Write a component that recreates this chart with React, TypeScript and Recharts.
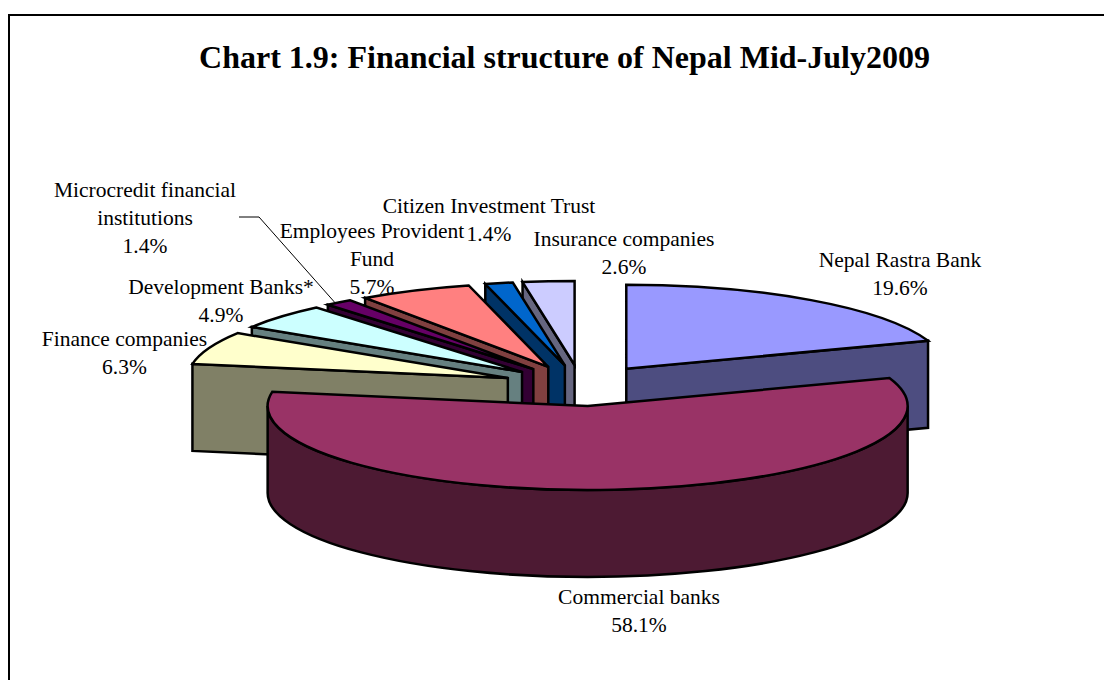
import React from 'react';
import { PieChart, Pie } from 'recharts';

// listed clockwise from the top, the way the slices sit in the source chart
const categories = [
  'Nepal Rastra Bank',
  'Insurance companies',
  'Citizen Investment Trust',
  'Employees Provident Fund',
  'Microcredit financial institutions',
  'Development Banks*',
  'Finance companies',
  'Commercial banks',
];
const shares = [19.6, 2.6, 1.4, 5.7, 1.4, 4.9, 6.3, 58.1];
const topColors = ['#9999FF', '#CCCCFF', '#0066CC', '#FF8080', '#660066', '#CCFFFF', '#FFFFCC', '#993366'];
const sideColors = ['#4D4D80', '#666680', '#003366', '#804040', '#330033', '#668080', '#808066', '#4D1A33'];

// hand placed label blocks: centre x, first baseline, wrapped lines
const labelSpots = [
  { x: 900, y: 267, lines: ['Nepal Rastra Bank'] },
  { x: 624, y: 246, lines: ['Insurance companies'] },
  { x: 489, y: 213, lines: ['Citizen Investment Trust'] },
  { x: 372, y: 238, lines: ['Employees Provident', 'Fund'] },
  { x: 145, y: 197, lines: ['Microcredit financial', 'institutions'] },
  { x: 221, y: 294, lines: ['Development Banks*'] },
  { x: 124.5, y: 346, lines: ['Finance companies'] },
  { x: 639, y: 604, lines: ['Commercial banks'] },
];

const data = categories.map((name, i) => ({ name, value: shares[i], top: topColors[i], side: sideColors[i] }));

const SQUASH = 84 / 320;
const DEPTH = 87;
const EXPLODE = 0.245;
const RX = 320;
const RY = RX * SQUASH;
const FONT = '"Liberation Serif", "Times New Roman", serif';

const rad = (d: number) => (d * Math.PI) / 180;

// recharts angles run counter clockwise from 3 o'clock, the tilted pie is easier clockwise from 12
const pt = (ax: number, ay: number, clock: number, r = RX) => ({
  x: ax + r * Math.sin(rad(clock)),
  y: ay - (r * SQUASH) * Math.cos(rad(clock)),
});

const sliceApex = (cx: number, cy: number, a: number, b: number) => {
  const clockA = 90 - Math.max(a, b);
  const clockB = 90 - Math.min(a, b);
  const start = ((clockA % 360) + 360) % 360;
  const end = start + (clockB - clockA);
  const mid = (start + end) / 2;
  const apex = pt(cx, cy, mid, RX * EXPLODE);
  return { start, end, mid, apex };
};

function Slice3D(props: any) {
  const { cx, cy, startAngle, endAngle, payload } = props;
  const { start, end, apex } = sliceApex(cx, cy, startAngle, endAngle);
  const p1 = pt(apex.x, apex.y, start);
  const p2 = pt(apex.x, apex.y, end);
  const large = end - start > 180 ? 1 : 0;
  const stroke = { stroke: '#000', strokeWidth: 2.5, strokeLinejoin: 'miter' as const };

  const wall = (p: { x: number; y: number }) =>
    `M${apex.x},${apex.y}L${p.x},${p.y}L${p.x},${p.y + DEPTH}L${apex.x},${apex.y + DEPTH}Z`;

  // outer rim is only seen on the front half of the ellipse
  const rimFrom = Math.max(start, 90);
  const rimTo = Math.min(end, 270);
  let rim = '';
  if (rimTo > rimFrom) {
    const a = pt(apex.x, apex.y, rimFrom);
    const b = pt(apex.x, apex.y, rimTo);
    rim =
      `M${a.x},${a.y}A${RX},${RY} 0 0 1 ${b.x},${b.y}` +
      `L${b.x},${b.y + DEPTH}A${RX},${RY} 0 0 0 ${a.x},${a.y + DEPTH}Z`;
  }

  const top =
    `M${apex.x},${apex.y}L${p1.x},${p1.y}` +
    `A${RX},${RY} 0 ${large} 1 ${p2.x},${p2.y}Z`;

  return (
    <g>
      {Math.sin(rad(start)) < 0 && <path d={wall(p1)} fill={payload.side} {...stroke} />}
      {Math.sin(rad(end)) > 0 && <path d={wall(p2)} fill={payload.side} {...stroke} />}
      {rim && <path d={rim} fill={payload.side} {...stroke} />}
      <path d={top} fill={payload.top} {...stroke} />
    </g>
  );
}

function SliceLabel(props: any) {
  const { index, value, cx, cy } = props;
  const spot = labelSpots[index];
  const rows = [...spot.lines, `${value.toFixed(1)}%`];
  let leader = null;
  if (categories[index].startsWith('Microcredit')) {
    // the one label that needs a leader back to its slice
    const before = shares.slice(1, index).reduce((s, v) => s + v, 0);
    const clock = 360 - (before + shares[index] / 2) * 3.6;
    const apex = pt(cx, cy, clock, RX * EXPLODE);
    const tip = pt(apex.x, apex.y, clock);
    leader = (
      <polyline
        points={`239,217 259,217 ${tip.x - 4},${tip.y}`}
        fill="none"
        stroke="#000"
        strokeWidth={1}
      />
    );
  }
  return (
    <g>
      {leader}
      <text x={spot.x} y={spot.y} textAnchor="middle" fontFamily={FONT} fontSize={21.5} fill="#000">
        {rows.map((row, i) => (
          <tspan key={row} x={spot.x} dy={i === 0 ? 0 : 28}>
            {row}
          </tspan>
        ))}
      </text>
    </g>
  );
}

export default function App() {
  // first slice ends at 12 o'clock and the rest carry on counter clockwise, so the big
  // commercial banks slice is painted last and lands on top
  const startAngle = 90 - shares[0] * 3.6;

  return (
    <div style={{ position: 'absolute', left: 0, top: 0, width: 1104, height: 680, background: '#fff', overflow: 'hidden' }}>
      <div
        style={{
          position: 'absolute',
          left: 8,
          top: 14,
          width: 1200,
          height: 800,
          border: '2px solid #000',
          boxSizing: 'border-box',
        }}
      />
      <div
        style={{
          position: 'absolute',
          left: 0,
          top: 38,
          width: 1129,
          textAlign: 'center',
          fontFamily: FONT,
          fontWeight: 'bold',
          fontSize: 32,
          lineHeight: '38px',
          color: '#000',
        }}
      >
        Chart 1.9: Financial structure of Nepal Mid-July2009
      </div>
      <PieChart
        width={1104}
        height={680}
        margin={{ top: 0, right: 0, bottom: 0, left: 0 }}
        style={{ position: 'absolute', left: 0, top: 0 }}
      >
        <Pie
          data={data}
          dataKey="value"
          nameKey="name"
          cx={581}
          cy={385.5}
          outerRadius={320}
          startAngle={startAngle}
          endAngle={startAngle + 360}
          shape={Slice3D}
          label={SliceLabel}
          labelLine={false}
          isAnimationActive={false}
        />
      </PieChart>
    </div>
  );
}
